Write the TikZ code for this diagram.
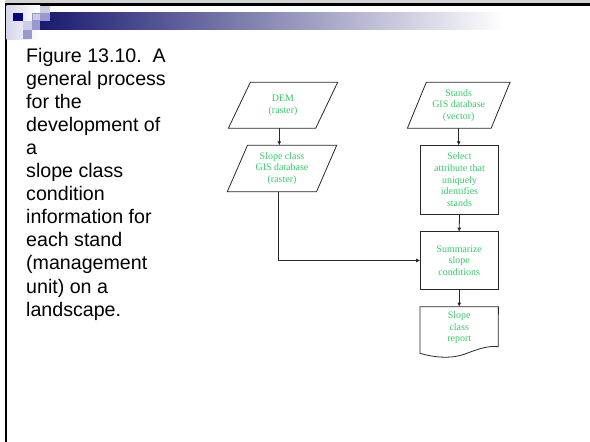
\documentclass[tikz,border=0pt]{standalone}
\usepackage{fontspec}
\setmainfont{Liberation Serif}
\newfontfamily\captionfont{Liberation Sans}
\usetikzlibrary{shapes.geometric,arrows.meta}

\definecolor{flowgreen}{RGB}{51,204,102}
\definecolor{barnavy}{RGB}{26,26,112}
\definecolor{sqnavy}{RGB}{0,0,128}
\definecolor{sqmid}{RGB}{153,153,204}
\definecolor{sqlight}{RGB}{204,204,230}
\definecolor{edgegray}{RGB}{40,40,40}

\tikzset{
  flowtext/.style={text=flowgreen, align=center,
    font=\fontsize{10}{11.7}\selectfont},
  para/.style={flowtext, draw=edgegray, line width=0.8bp, shape=trapezium,
    trapezium left angle=64.5, trapezium right angle=115.5,
    trapezium stretches=true, inner sep=0pt, outer sep=0pt,
    minimum height=46bp},
  proc/.style={flowtext, draw=edgegray, line width=0.8bp, rectangle,
    inner sep=0pt, outer sep=0pt, minimum width=78bp},
  arr/.style={draw=edgegray, line width=0.8bp,
    -{Latex[length=4bp,width=4bp]}},
  sq/.style={line width=0pt}
}

\begin{document}
\begin{tikzpicture}[x=1bp,y=-1bp]
\useasboundingbox (0,0) rectangle (590,442);
\fill[white] (0,0) rectangle (590,442);

% slide header: frame lines, gradient bar and pixel squares
\fill[gray!35] (5,0) rectangle (590,3.3);
\fill[black] (4.7,3.3) rectangle (590,5.7);
\fill[black] (4.7,3.3) rectangle (6.7,442);
\shade[left color=sqlight!80, right color=white] (6.7,5.7) rectangle (40,40);
\shade[left color=barnavy, right color=white] (40,12.7) rectangle (505,30);
\fill[sqnavy] (12.7,12.7) rectangle (22.7,20.7);
\fill[sqlight, draw=sqmid, line width=0.6bp] (31.9,12.9) rectangle (39.8,20.5);
\fill[sqmid] (40,12.7) rectangle (50,20.7);
\fill[sqlight] (40,5.7) rectangle (50,12.7);
\fill[sqlight] (22.7,20.7) rectangle (31.7,30);
\fill[sqmid] (31.7,20.7) rectangle (40,30);
\fill[sqmid] (22.7,30) rectangle (31.7,39.3);

% caption
\node[anchor=north west, align=left, inner sep=0pt,
      font=\captionfont\fontsize{19.7}{23.15}\selectfont] (caption) at (26,48)
  {Figure 13.10.\ \ A\\general process\\for the\\development of\\a\\slope class\\condition\\information for\\each stand\\(management\\unit) on a\\landscape.};

% flowchart
\node[para, minimum width=109.4bp] (dem) at (283,105.3) {DEM\\(raster)};
\node[para, minimum width=109.4bp, minimum height=46.4bp] (slope) at (282,168.5)
  {Slope class\\GIS database\\(raster)};
\node[para, minimum width=102.7bp] (stands) at (458.7,105.3)
  {Stands\\GIS database\\(vector)};
\node[proc, minimum height=68.7bp] (select) at (459.5,179.7)
  {Select\\attribute that\\uniquely\\identifies\\stands};
\node[proc, minimum height=57.6bp] (summ) at (459.2,260.5)
  {Summarize\\slope\\conditions};
\node[rectangle, inner sep=0pt, outer sep=0pt, minimum width=78.3bp,
      minimum height=46.6bp] (report) at (459.2,330) {};
\node[flowtext, inner sep=0pt] (reporttext) at (459.2,327.7) {Slope\\class\\report};

% document shape of the report
\draw[edgegray, line width=0.8bp]
  (report.south west) -- (report.north west) -- (report.north east)
  -- (498.3,346.7)
  .. controls (488,345.5) and (478,349) .. (465,354)
  .. controls (450,359.5) and (432,357) .. (report.south west) -- cycle;

% connectors
\draw[arr] ([xshift=-3.7bp]dem.south) -- ([xshift=-3.7bp]dem.south |- slope.north);
\draw[arr] ([xshift=-3.7bp]slope.south) |- (summ.west);
\draw[arr] (stands.south) -- (stands.south |- select.north);
\draw[arr] (select.south) -- (summ.north);
\draw[arr] (summ.south) -- (report.north);
\end{tikzpicture}
\end{document}
